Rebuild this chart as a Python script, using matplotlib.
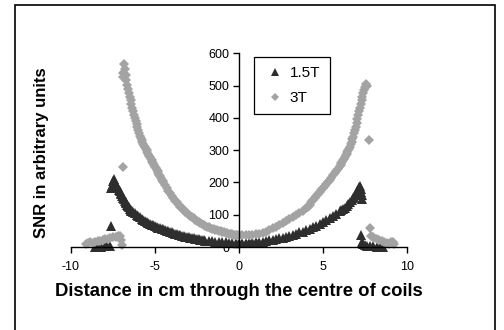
import matplotlib
matplotlib.use('Agg')
import matplotlib.pyplot as plt
from matplotlib.patches import Rectangle

plt.rcParams['font.family'] = ['Liberation Sans', 'DejaVu Sans']
plt.rcParams['axes.unicode_minus'] = False

# ---------------- data ----------------
series_names = ['1.5T', '3T']
x_ticks = [-10, -5, 0, 5, 10]
y_ticks = [0, 100, 200, 300, 400, 500, 600]

# 1.5 T scan: distance (cm) and SNR
x_15T = [-8.60, -8.40, -8.20, -8.00, -7.85, -7.70, -7.62,
         -7.60, -7.55, -7.50, -7.44, -7.40, -7.35, -7.30, -7.25, -7.20, -7.15,
         -7.10, -7.05, -7.00, -6.95, -6.90, -6.85, -6.80, -6.75, -6.70, -6.65,
         -6.60, -6.55, -6.50, -6.45, -6.40, -6.35, -6.30, -6.20, -6.10, -6.00,
         -5.90, -5.80, -5.70, -5.60, -5.50, -5.40, -5.30, -5.20, -5.10, -5.00,
         -4.90, -4.80, -4.70, -4.60, -4.50, -4.40, -4.30, -4.20, -4.10, -4.00,
         -3.90, -3.80, -3.70, -3.60, -3.50, -3.40, -3.30, -3.20, -3.10, -3.00,
         -2.90, -2.80, -2.70, -2.60, -2.50, -2.40, -2.30, -2.20, -2.10, -2.00,
         -1.80, -1.60, -1.40, -1.20, -1.00, -0.80, -0.60, -0.40, -0.20, 0.00,
         0.20, 0.40, 0.60, 0.80, 1.00, 1.20, 1.40, 1.60, 1.80, 2.00,
         2.20, 2.40, 2.60, 2.80, 3.00, 3.20, 3.40, 3.60, 3.80, 4.00,
         4.20, 4.40, 4.60, 4.80, 5.00, 5.20, 5.40, 5.60, 5.80, 6.00,
         6.10, 6.20, 6.30, 6.40, 6.50, 6.60, 6.70, 6.80, 6.85, 6.90,
         6.95, 7.00, 7.05, 7.10, 7.15, 7.20, 7.25, 7.28, 7.30, 7.32,
         7.25, 7.30, 7.40, 7.50, 7.60, 7.80, 8.00, 8.20, 8.40, 8.60]
snr_15T = [0, 1, 1, 2, 2, 3, 65,
           182, 190, 205, 212, 200, 194, 190, 186, 182, 177,
           172, 167, 163, 158, 153, 149, 144, 140, 135, 131,
           127, 123, 119, 115, 112, 110, 108, 104, 100, 96,
           92, 88, 84, 80, 77, 74, 72, 69, 67, 64,
           62, 60, 58, 56, 55, 53, 51, 49, 47, 45,
           43, 41, 40, 38, 37, 35, 34, 32, 31, 30,
           29, 28, 27, 26, 25, 24, 23, 22, 21, 20,
           19, 18, 17, 16, 15, 14, 13, 13, 12, 12,
           12, 13, 13, 14, 15, 16, 17, 19, 21, 23,
           25, 27, 29, 32, 35, 38, 41, 45, 48, 52,
           57, 61, 66, 72, 78, 83, 89, 95, 102, 110,
           114, 118, 122, 127, 132, 138, 145, 152, 156, 160,
           164, 168, 173, 178, 185, 190, 180, 170, 160, 150,
           38, 15, 8, 5, 4, 3, 2, 1, 0, 0]

# 3 T scan: distance (cm) and SNR
x_3T = [-9.10, -9.00, -8.85, -8.70, -8.55, -8.40, -8.25, -8.10, -7.95, -7.80,
        -7.65, -7.50, -7.35, -7.20, -7.10, -7.02, -6.98, -6.90,
        -6.92, -6.88, -6.85, -6.80, -6.75, -6.70, -6.65, -6.60, -6.55, -6.50,
        -6.45, -6.40, -6.35, -6.30, -6.25, -6.20, -6.15, -6.10, -6.05, -6.00,
        -5.95, -5.90, -5.85, -5.80, -5.75, -5.70, -5.65, -5.60, -5.55, -5.50,
        -5.45, -5.40, -5.35, -5.30, -5.25, -5.20, -5.15, -5.10, -5.05, -5.00,
        -4.95, -4.90, -4.85, -4.80, -4.75, -4.70, -4.65, -4.60, -4.55, -4.50,
        -4.40, -4.30, -4.20, -4.10, -4.00, -3.90, -3.80, -3.70, -3.60, -3.50,
        -3.40, -3.30, -3.20, -3.10, -3.00, -2.90, -2.80, -2.70, -2.60, -2.50,
        -2.40, -2.30, -2.20, -2.10, -2.00, -1.90, -1.80, -1.70, -1.60, -1.50,
        -1.40, -1.30, -1.20, -1.10, -1.00, -0.90, -0.80, -0.70, -0.60, -0.50,
        -0.40, -0.30, -0.20, -0.10, 0.00, 0.20, 0.40, 0.60, 0.80, 1.00,
        1.20, 1.40, 1.60, 1.80, 2.00, 2.20, 2.40, 2.60, 2.80, 3.00,
        3.20, 3.40, 3.60, 3.80, 4.00, 4.10, 4.20, 4.30, 4.40, 4.50,
        4.60, 4.70, 4.80, 4.90, 5.00, 5.10, 5.20, 5.30, 5.40, 5.50,
        5.60, 5.70, 5.80, 5.90, 6.00, 6.05, 6.10, 6.15, 6.20, 6.25,
        6.30, 6.35, 6.40, 6.45, 6.50, 6.55, 6.60, 6.65, 6.70, 6.75,
        6.80, 6.85, 6.90, 6.95, 7.00, 7.05, 7.10, 7.15, 7.20, 7.25,
        7.30, 7.35, 7.40, 7.45, 7.50, 7.55, 7.60,
        7.72, 7.80, 7.88, 7.95, 8.05, 8.20, 8.35, 8.50, 8.65, 8.80,
        8.95, 9.05, 9.15, 9.20]
snr_3T = [8, 12, 15, 12, 16, 18, 20, 22, 25, 25,
          28, 30, 32, 35, 33, 22, 5, 247,
          527, 540, 568, 550, 532, 516, 503, 490, 478, 466,
          455, 443, 432, 421, 410, 400, 390, 380, 371, 362,
          353, 345, 337, 331, 325, 320, 314, 309, 304, 299,
          294, 289, 283, 278, 273, 268, 263, 259, 254, 249,
          244, 239, 234, 229, 224, 219, 214, 209, 204, 200,
          191, 182, 174, 166, 158, 151, 144, 138, 131, 125,
          120, 114, 109, 104, 100, 96, 92, 89, 85, 81,
          77, 73, 71, 68, 65, 63, 61, 59, 57, 55,
          54, 53, 51, 49, 47, 45, 43, 42, 41, 40,
          39, 38, 37, 37, 37, 37, 37, 38, 38, 39,
          41, 44, 48, 53, 58, 63, 68, 73, 80, 86,
          93, 99, 106, 113, 120, 124, 130, 138, 145, 152,
          158, 165, 171, 177, 183, 189, 195, 202, 208, 215,
          222, 229, 236, 243, 250, 254, 259, 263, 268, 273,
          278, 284, 289, 294, 299, 305, 311, 318, 325, 333,
          342, 352, 362, 373, 384, 396, 408, 420, 432, 444,
          455, 466, 476, 486, 495, 504, 500,
          331, 58, 35, 30, 28, 25, 22, 20, 15, 12,
          10, 14, 15, 10]

# ---------------- figure ----------------
W, H = 504, 330
fig = plt.figure(figsize=(W / 100, H / 100), dpi=100)
fig.patch.set_facecolor('white')

# outer frame of the picture
fig.add_artist(Rectangle((15 / W, -0.05), (495 - 15) / W, 1 - 5 / H + 0.05,
                         transform=fig.transFigure, fill=False,
                         edgecolor='black', linewidth=1.2))

ax = fig.add_axes([71 / W, 1 - 247 / H, (407 - 71) / W, (247 - 53.3) / H])
ax.set_facecolor('none')

ax.plot(x_15T, snr_15T, linestyle='none', marker='^', markersize=7.2,
        markeredgewidth=0, color='#2e2e2e', label=series_names[0], clip_on=False)
ax.plot(x_3T, snr_3T, linestyle='none', marker='D', markersize=4.6,
        markeredgewidth=0, color='#a3a3a3', label=series_names[1], clip_on=False)

ax.set_xlim(-10, 10)
ax.set_ylim(0, 600)
ax.set_xticks(x_ticks)
ax.set_yticks(y_ticks)
ax.spines['top'].set_visible(False)
ax.spines['right'].set_visible(False)
ax.spines['left'].set_position(('data', 0))
for s in ('left', 'bottom'):
    ax.spines[s].set_linewidth(1.0)
    ax.spines[s].set_color('black')
ax.tick_params(axis='both', direction='out', length=4, width=1,
               labelsize=9, colors='black')
ax.tick_params(axis='x', pad=6)
ax.tick_params(axis='y', pad=3)

fig.text(239 / W, 1 - 292 / H, 'Distance in cm through the centre of coils',
         ha='center', va='center', fontsize=13.3, fontweight='bold')
fig.text(42 / W, 1 - 153 / H, 'SNR in arbitrary units', rotation=90,
         ha='center', va='center', fontsize=12, fontweight='bold')

leg = ax.legend(loc='upper left', bbox_to_anchor=(254 / W, 1 - 56.7 / H),
                bbox_transform=fig.transFigure, frameon=True, fancybox=False,
                edgecolor='black', framealpha=1, fontsize=11,
                handlelength=1.6, handletextpad=0.15, borderpad=0.6,
                labelspacing=0.75, borderaxespad=0, markerscale=0.8)
leg.get_frame().set_linewidth(0.9)

fig.savefig('out.png', dpi=100)
